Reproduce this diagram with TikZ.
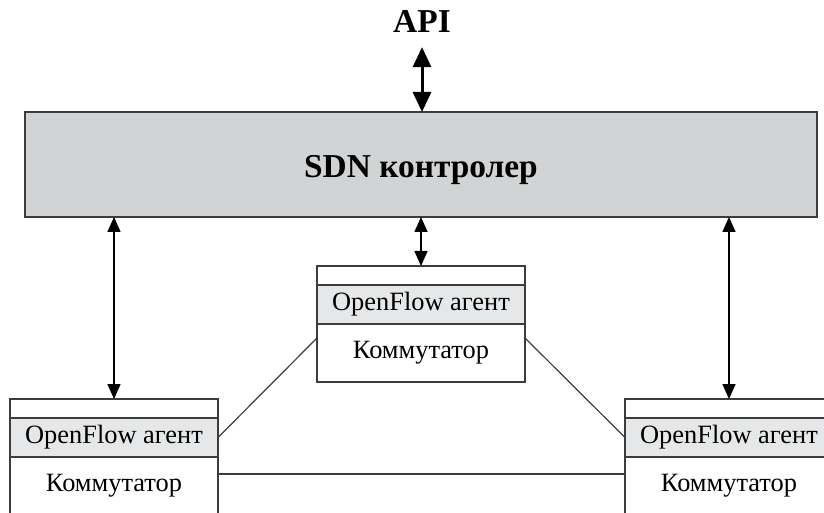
\documentclass[tikz,border=0pt]{standalone}
\usepackage{fontspec}
\setmainfont{Liberation Serif}
\usepackage{tikz}
\usetikzlibrary{arrows.meta,positioning}
\definecolor{sdngray}{RGB}{209,211,212}
\definecolor{agentgray}{RGB}{230,231,232}
\definecolor{linegray}{RGB}{60,60,60}

\begin{document}
\begin{tikzpicture}[x=0.5pt, y=-0.5pt,
  arrow/.style={{Triangle[length=7.5pt,width=6.5pt]}-{Triangle[length=7.5pt,width=6.5pt]}, line width=0.8pt},
  bigarrow/.style={{Triangle[length=10pt,width=9pt]}-{Triangle[length=10pt,width=9pt]}, line width=1.5pt},
  link/.style={draw=linegray, line width=0.6pt},
  ctrl/.style={draw=linegray, fill=sdngray, line width=0.7pt, outer sep=0pt,
               minimum width=396pt, minimum height=52.5pt,
               text height=13.5pt, text depth=0pt,
               font=\bfseries\fontsize{16.7}{20}\selectfont},
  strip/.style={draw=linegray, fill=white, line width=0.7pt, inner sep=0pt, outer sep=0pt,
                minimum width=104pt, minimum height=9.5pt},
  agent/.style={strip, fill=agentgray, minimum height=19.5pt, font=\fontsize{13.2}{15}\selectfont},
  switch/.style={strip, minimum height=29pt, font=\fontsize{13.2}{15}\selectfont},
]
  \useasboundingbox (0,0) rectangle (824,513);
  \clip (0,0) rectangle (824,513);

  % ---- Controller and API ----
  \node[font=\bfseries\fontsize{16.7}{20}\selectfont] (api) at (422,21) {API};
  \node[ctrl] (ctrl) at (421,164.5) {SDN контролер};

  % ---- Switches ----
  \node[strip] (ltop) at (114,408.5) {};
  \node[agent, below=0pt of ltop] (lag) {OpenFlow агент};
  \node[switch, below=0pt of lag] (lsw) {Коммутатор};

  \node[strip] (mtop) at (421,275.5) {};
  \node[agent, below=0pt of mtop] (mag) {OpenFlow агент};
  \node[switch, below=0pt of mag] (msw) {Коммутатор};

  \node[strip] (rtop) at (729,408.5) {};
  \node[agent, below=0pt of rtop] (rag) {OpenFlow агент};
  \node[switch, below=0pt of rag] (rsw) {Коммутатор};

  % ---- Arrows ----
  \draw[bigarrow, shorten <=4pt] (api.south) -- (api.south |- ctrl.north);
  \draw[arrow] (ctrl.south -| ltop.north) -- (ltop.north);
  \draw[arrow] (ctrl.south -| mtop.north) -- (mtop.north);
  \draw[arrow] (ctrl.south -| rtop.north) -- (rtop.north);

  % ---- Links between switches ----
  \draw[link] (lag.east) -- ([yshift=7.5pt]msw.west);
  \draw[link] ([yshift=7.5pt]msw.east) -- (rag.west);
  \draw[link] ([yshift=-8.5pt]lsw.north east) -- ([yshift=-8.5pt]rsw.north west);
\end{tikzpicture}
\end{document}
